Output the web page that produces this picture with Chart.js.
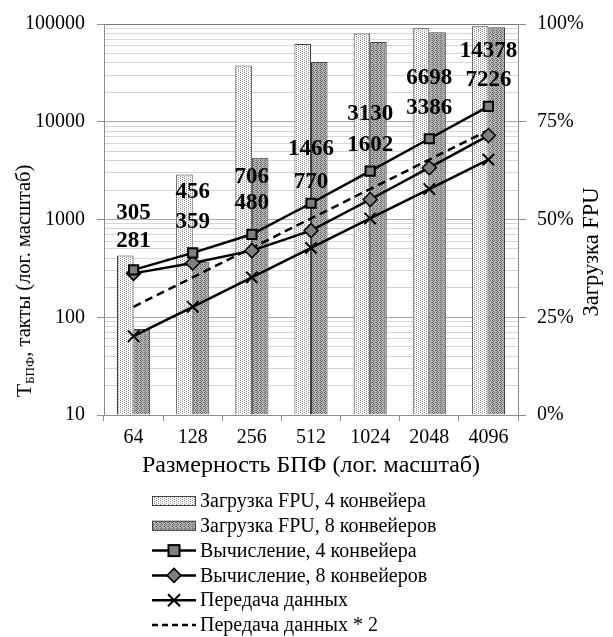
<!DOCTYPE html>
<html>
<head>
<meta charset="utf-8">
<script src="https://cdn.jsdelivr.net/npm/chart.js@4.4.1/dist/chart.umd.min.js"></script>
<style>
html,body{margin:0;padding:0;background:#fff;}
canvas{display:block;}
</style>
</head>
<body>
<canvas id="c" width="613" height="637"></canvas>
<script>
// ---- data ----
const categories = ['64', '128', '256', '512', '1024', '2048', '4096'];
const fpuLoad4 = [40.8, 61.5, 89.4, 94.9, 97.6, 98.9, 99.4];   // %
const fpuLoad8 = [22.0, 39.2, 65.8, 90.3, 95.4, 97.9, 99.2];   // %
const compute4 = [305, 456, 706, 1466, 3130, 6698, 14378];
const compute8 = [281, 359, 480, 770, 1602, 3386, 7226];
const transfer = [64, 128, 256, 512, 1024, 2048, 4096];
const transfer2 = [128, 256, 512, 1024, 2048, 4096, 8192];
const leftTicks = [10, 100, 1000, 10000, 100000];
const rightTicks = [0, 25, 50, 75, 100];
const legendLabels = [
  'Загрузка FPU, 4 конвейера',
  'Загрузка FPU, 8 конвейеров',
  'Вычисление, 4 конвейера',
  'Вычисление, 8 конвейеров',
  'Передача данных',
  'Передача данных * 2'
];
const xTitle = 'Размерность БПФ (лог. масштаб)';
const yTitleMain = 'T';
const yTitleSub = 'БПФ';
const yTitleRest = ', такты (лог. масштаб)';
const y1Title = 'Загрузка FPU';

// ---- styles ----
const FONT = '"Liberation Serif", "Times New Roman", serif';
function makePattern(bg, dot, pts) {
  const c = document.createElement('canvas');
  c.width = 4; c.height = 4;
  const g = c.getContext('2d');
  g.fillStyle = bg; g.fillRect(0, 0, 4, 4);
  g.fillStyle = dot;
  pts.forEach(p => g.fillRect(p[0], p[1], 1, 1));
  return g.createPattern(c, 'repeat');
}
const lightPat = makePattern('#ffffff', '#8a8a8a', [[0,0],[2,1],[0,2],[2,3]]);
const darkPat = makePattern('#b8b8b8', '#6a6a6a', [[0,0],[2,0],[1,1],[3,2],[1,3],[0,2]]);

const labelOffsets4 = [57, 61, 57, 54, 57, 61, 55];
const labelOffsets8 = [32, 41, 48, 49, 54, 60, 55];

// ---- minor log ticks ----
function logTickValues(min, max) {
  const out = [];
  for (let p = min; p < max; p *= 10) {
    for (let m = 1; m < 10; m++) out.push(p * m);
  }
  out.push(max);
  return out;
}
function isMajor(v) {
  const l = Math.log10(v);
  return Math.abs(l - Math.round(l)) < 1e-9;
}

const textPlugin = {
  id: 'textPlugin',
  afterDatasetsDraw(chart) {
    const ctx = chart.ctx;
    ctx.save();
    ctx.fillStyle = '#000';
    ctx.font = 'bold 23px ' + FONT;
    ctx.textAlign = 'center';
    ctx.textBaseline = 'middle';
    const m4 = chart.getDatasetMeta(2);
    const m8 = chart.getDatasetMeta(3);
    m4.data.forEach((pt, i) => ctx.fillText(String(compute4[i]), pt.x, pt.y - labelOffsets4[i]));
    m8.data.forEach((pt, i) => ctx.fillText(String(compute8[i]), pt.x, pt.y - labelOffsets8[i]));
    ctx.restore();
  },
  afterDraw(chart) {
    const ctx = chart.ctx;
    const ca = chart.chartArea;
    ctx.save();
    ctx.fillStyle = '#000';
    ctx.textBaseline = 'middle';
    // x title
    ctx.font = '24px ' + FONT;
    ctx.textAlign = 'center';
    ctx.fillText(xTitle, (ca.left + ca.right) / 2, 466);
    // left title rotated with subscript
    ctx.save();
    ctx.translate(25, 281);
    ctx.rotate(-Math.PI / 2);
    ctx.textAlign = 'left';
    ctx.font = '22px ' + FONT;
    const wT = ctx.measureText(yTitleMain).width;
    ctx.font = '13px ' + FONT;
    const wS = ctx.measureText(yTitleSub).width;
    ctx.font = '20.5px ' + FONT;
    const wR = ctx.measureText(yTitleRest).width;
    let x = -(wT + wS + wR) / 2;
    ctx.font = '22px ' + FONT;
    ctx.fillText(yTitleMain, x, 0); x += wT;
    ctx.font = '13px ' + FONT;
    ctx.fillText(yTitleSub, x, 6); x += wS;
    ctx.font = '20.5px ' + FONT;
    ctx.fillText(yTitleRest, x, 0);
    ctx.restore();
    // right title
    ctx.save();
    ctx.translate(592, 252);
    ctx.rotate(-Math.PI / 2);
    ctx.textAlign = 'center';
    ctx.font = '22.5px ' + FONT;
    ctx.fillText(y1Title, 0, 0);
    ctx.restore();
    // legend
    const x0 = 152, x1 = 196, tx = 200;
    const y0 = 501, dy = 24.8;
    ctx.font = '20px ' + FONT;
    ctx.textAlign = 'left';
    legendLabels.forEach((lab, i) => {
      const y = y0 + i * dy;
      ctx.save();
      if (i < 2) {
        ctx.fillStyle = i === 0 ? lightPat : darkPat;
        ctx.fillRect(x0, y - 5, x1 - x0, 10);
        ctx.strokeStyle = '#404040';
        ctx.lineWidth = 1;
        ctx.strokeRect(x0 + 0.5, y - 4.5, x1 - x0 - 1, 9);
      } else {
        ctx.strokeStyle = '#000';
        ctx.lineWidth = 2.5;
        if (i === 5) ctx.setLineDash([6, 4]);
        ctx.beginPath(); ctx.moveTo(x0, y); ctx.lineTo(x1, y); ctx.stroke();
        ctx.setLineDash([]);
        const cx = (x0 + x1) / 2;
        if (i === 2) {
          ctx.fillStyle = '#7f7f7f';
          ctx.fillRect(cx - 5.5, y - 5.5, 11, 11);
          ctx.lineWidth = 2;
          ctx.strokeRect(cx - 5.5, y - 5.5, 11, 11);
        } else if (i === 3) {
          ctx.fillStyle = '#7f7f7f';
          ctx.beginPath();
          ctx.moveTo(cx, y - 7); ctx.lineTo(cx + 7, y); ctx.lineTo(cx, y + 7); ctx.lineTo(cx - 7, y); ctx.closePath();
          ctx.fill(); ctx.lineWidth = 1.5; ctx.stroke();
        } else if (i === 4) {
          ctx.lineWidth = 2;
          ctx.beginPath();
          ctx.moveTo(cx - 6, y - 6); ctx.lineTo(cx + 6, y + 6);
          ctx.moveTo(cx + 6, y - 6); ctx.lineTo(cx - 6, y + 6);
          ctx.stroke();
        }
      }
      ctx.restore();
      ctx.fillStyle = '#000';
      ctx.fillText(lab, tx, y + 1);
    });
    ctx.restore();
  }
};

const tickFont = { family: FONT, size: 20 };

new Chart(document.getElementById('c'), {
  type: 'bar',
  data: {
    labels: categories,
    datasets: [
      { type: 'bar', label: legendLabels[0], data: fpuLoad4, yAxisID: 'y1', order: 5,
        backgroundColor: lightPat, borderColor: '#404040', borderWidth: 1,
        categoryPercentage: 0.56, barPercentage: 1.0 },
      { type: 'bar', label: legendLabels[1], data: fpuLoad8, yAxisID: 'y1', order: 5,
        backgroundColor: darkPat, borderColor: '#404040', borderWidth: 1,
        categoryPercentage: 0.56, barPercentage: 1.0 },
      { type: 'line', label: legendLabels[2], data: compute4, yAxisID: 'y', order: 1,
        borderColor: '#000', borderWidth: 2.5, pointStyle: 'rect', pointRadius: 6.5,
        pointBackgroundColor: '#7f7f7f', pointBorderColor: '#000', pointBorderWidth: 2, tension: 0 },
      { type: 'line', label: legendLabels[3], data: compute8, yAxisID: 'y', order: 2,
        borderColor: '#000', borderWidth: 2.5, pointStyle: 'rectRot', pointRadius: 7,
        pointBackgroundColor: '#7f7f7f', pointBorderColor: '#000', pointBorderWidth: 1.5, tension: 0 },
      { type: 'line', label: legendLabels[4], data: transfer, yAxisID: 'y', order: 3,
        borderColor: '#000', borderWidth: 2.5, pointStyle: 'crossRot', pointRadius: 8,
        pointBorderColor: '#000', pointBorderWidth: 2, tension: 0 },
      { type: 'line', label: legendLabels[5], data: transfer2, yAxisID: 'y', order: 4,
        borderColor: '#000', borderWidth: 2.5, borderDash: [8, 5], pointRadius: 0, tension: 0 }
    ]
  },
  options: {
    responsive: false,
    animation: false,
    layout: { padding: { top: 20, left: 0, right: 0, bottom: 0 } },
    plugins: { legend: { display: false }, tooltip: { enabled: false } },
    scales: {
      x: {
        type: 'category',
        offset: true,
        grid: { offset: true, drawOnChartArea: false, drawTicks: true, tickLength: 6, color: '#8c8c8c' },
        border: { display: true, color: '#8c8c8c', width: 1 },
        ticks: { font: tickFont, color: '#000', padding: 5, maxRotation: 0, autoSkip: false },
        afterFit(s) { s.height = 222; }
      },
      y: {
        type: 'logarithmic',
        position: 'left',
        min: leftTicks[0],
        max: leftTicks[leftTicks.length - 1],
        afterBuildTicks(s) {
          s.ticks = logTickValues(leftTicks[0], leftTicks[leftTicks.length - 1]).map(v => ({ value: v }));
        },
        ticks: {
          font: tickFont, color: '#000', padding: 12, autoSkip: false,
          callback: (v) => leftTicks.includes(v) ? String(v) : ''
        },
        grid: {
          drawTicks: true, tickLength: 7,
          color: (c) => {
            const v = c.tick && c.tick.value;
            if (v === 100000) return '#7a7a7a';
            return isMajor(v) ? '#a8a8a8' : '#d6d6d6';
          },
          tickColor: (c) => (c.tick && isMajor(c.tick.value)) ? '#8c8c8c' : 'rgba(0,0,0,0)'
        },
        border: { display: true, color: '#8c8c8c', width: 1 },
        afterFit(s) { s.width = 104; }
      },
      y1: {
        type: 'linear',
        position: 'right',
        min: rightTicks[0],
        max: rightTicks[rightTicks.length - 1],
        afterBuildTicks(s) { s.ticks = rightTicks.map(v => ({ value: v })); },
        ticks: { font: tickFont, color: '#000', padding: 11, callback: (v) => v + '%' },
        grid: { drawOnChartArea: false, drawTicks: true, tickLength: 8, color: '#8c8c8c' },
        border: { display: true, color: '#8c8c8c', width: 1 },
        afterFit(s) { s.width = 95; }
      }
    }
  },
  plugins: [textPlugin]
});
</script>
</body>
</html>
